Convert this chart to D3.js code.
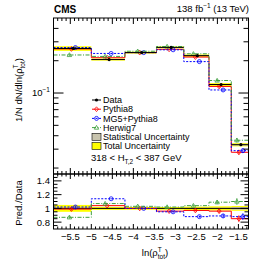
<!DOCTYPE html>
<html>
<head>
<meta charset="utf-8">
<script src="https://cdn.jsdelivr.net/npm/d3@7"></script>
<style>
  body { margin: 0; background: #fff; }
  text { font-family: "Liberation Sans", Arial, sans-serif; fill: #000; }
</style>
</head>
<body>
<script>
let W = 254, H = 271;
let left = 53.5, right = 248.5,
  topY = 18, midY = 174, botY = 229;

// bin edges in ln(rho)
let edges = [-5.9, -5.0, -4.2, -3.45, -2.8, -2.2, -1.67, -1.26];
// normalised data and uncertainties
let dataVals = [0.26, 0.205, 0.238, 0.266, 0.223, 0.12, 0.033];
let totUnc = [0.05, 0.022, 0.02, 0.02, 0.025, 0.03, 0.035];
let statUnc = [0.012, 0.006, 0.006, 0.006, 0.008, 0.01, 0.02];
// prediction / data
let pythiaRatio = [0.99, 1.04, 1.00, 0.96, 0.97, 0.96, 0.85];
let mg5Ratio = [1.02, 1.14, 1.00, 0.95, 0.88, 0.89, 0.88];
let herwigRatio = [0.87, 1.07, 1.03, 1.02, 1.04, 1.09, 1.10];
let mcErr = [0.02, 0.01, 0.01, 0.01, 0.015, 0.03, 0.05];
let xTicks = [-5.5, -5, -4.5, -4, -3.5, -3, -2.5, -2, -1.5];
let ratioTicks = [0.8, 1, 1.2, 1.4];

let svg = d3.select("body").append("svg")
  .attr("width", W).attr("height", H);

let x = d3.scaleLinear().domain([edges[0], edges[edges.length - 1]]).range([left, right]);
let y = d3.scaleLog().domain([0.0176, 0.5]).range([midY, topY]);
let yr = d3.scaleLinear().domain([0.7, 1.5]).range([botY, midY]);

let bins = dataVals.map((d, i) => ({ i: i, x0: edges[i], x1: edges[i + 1], c: (edges[i] + edges[i + 1]) / 2 }));

let series = [
  { name: "Pythia8", r: pythiaRatio, color: "#ff0000", dash: null, marker: "diamond", off: -1 },
  { name: "MG5+Pythia8", r: mg5Ratio, color: "#0000ff", dash: "2,1.5", marker: "circle", off: 3 },
  { name: "Herwig7", r: herwigRatio, color: "#3fa03f", dash: "4,1.5,1,1.5", marker: "triangle", off: -3 }
];

function stepPath(vals, sy) {
  let p = d3.path();
  vals.forEach((v, i) => {
    if (i === 0) p.moveTo(x(edges[0]), sy(v));
    else p.lineTo(x(edges[i]), sy(v));
    p.lineTo(x(edges[i + 1]), sy(v));
  });
  return p.toString();
}

function drawMarker(g, type, cx, cy, color) {
  if (type === "circle") {
    g.append("circle").attr("cx", cx).attr("cy", cy).attr("r", 2)
      .attr("fill", "none").attr("stroke", color).attr("stroke-width", 0.8);
  } else if (type === "diamond") {
    g.append("path").attr("d", `M${cx},${cy - 2.4}L${cx + 2},${cy}L${cx},${cy + 2.4}L${cx - 2},${cy}Z`)
      .attr("fill", "none").attr("stroke", color).attr("stroke-width", 0.8);
  } else if (type === "triangle") {
    g.append("path").attr("d", `M${cx},${cy - 2.2}L${cx + 2.2},${cy + 1.6}L${cx - 2.2},${cy + 1.6}Z`)
      .attr("fill", "none").attr("stroke", color).attr("stroke-width", 0.8);
  } else {
    g.append("circle").attr("cx", cx).attr("cy", cy).attr("r", 1.6).attr("fill", color);
  }
}

// ---------- upper panel ----------
let up = svg.append("g");
up.selectAll("rect.tot").data(bins).enter().append("rect")
  .attr("x", d => x(d.x0)).attr("width", d => x(d.x1) - x(d.x0))
  .attr("y", d => y(dataVals[d.i] * (1 + totUnc[d.i])))
  .attr("height", d => y(dataVals[d.i] * (1 - totUnc[d.i])) - y(dataVals[d.i] * (1 + totUnc[d.i])))
  .attr("fill", "#ffff00");
up.selectAll("rect.stat").data(bins).enter().append("rect")
  .attr("x", d => x(d.x0)).attr("width", d => x(d.x1) - x(d.x0))
  .attr("y", d => y(dataVals[d.i] * (1 + statUnc[d.i])))
  .attr("height", d => y(dataVals[d.i] * (1 - statUnc[d.i])) - y(dataVals[d.i] * (1 + statUnc[d.i])))
  .attr("fill", "#c8c4ae");

series.forEach(s => {
  let vals = dataVals.map((d, i) => d * s.r[i]);
  up.append("path").attr("d", stepPath(vals, y)).attr("fill", "none")
    .attr("stroke", s.color).attr("stroke-width", 1).attr("stroke-dasharray", s.dash);
  bins.forEach(b => {
    let cx = x(b.c) + s.off, v = vals[b.i];
    up.append("line").attr("x1", cx).attr("x2", cx)
      .attr("y1", y(v * (1 + mcErr[b.i]))).attr("y2", y(v * (1 - mcErr[b.i])))
      .attr("stroke", s.color).attr("stroke-width", 0.8);
    drawMarker(up, s.marker, cx, y(v), s.color);
  });
});
// data
bins.forEach(b => {
  up.append("line").attr("x1", x(b.x0)).attr("x2", x(b.x1))
    .attr("y1", y(dataVals[b.i])).attr("y2", y(dataVals[b.i]))
    .attr("stroke", "#000").attr("stroke-width", 1);
  drawMarker(up, "dot", x(b.c) + 1, y(dataVals[b.i]), "#000");
});

// ---------- ratio panel ----------
let lo = svg.append("g");
lo.selectAll("rect.tot").data(bins).enter().append("rect")
  .attr("x", d => x(d.x0)).attr("width", d => x(d.x1) - x(d.x0))
  .attr("y", d => yr(1 + totUnc[d.i])).attr("height", d => yr(1 - totUnc[d.i]) - yr(1 + totUnc[d.i]))
  .attr("fill", "#ffff00");
lo.selectAll("rect.stat").data(bins).enter().append("rect")
  .attr("x", d => x(d.x0)).attr("width", d => x(d.x1) - x(d.x0))
  .attr("y", d => yr(1 + statUnc[d.i])).attr("height", d => yr(1 - statUnc[d.i]) - yr(1 + statUnc[d.i]))
  .attr("fill", "#c8c4ae");
lo.append("line").attr("x1", left).attr("x2", right).attr("y1", yr(1)).attr("y2", yr(1))
  .attr("stroke", "#000").attr("stroke-width", 1);
series.forEach(s => {
  lo.append("path").attr("d", stepPath(s.r, yr)).attr("fill", "none")
    .attr("stroke", s.color).attr("stroke-width", 1).attr("stroke-dasharray", s.dash);
  bins.forEach(b => {
    let cx = x(b.c) + s.off, v = s.r[b.i];
    lo.append("line").attr("x1", cx).attr("x2", cx)
      .attr("y1", yr(v + mcErr[b.i])).attr("y2", yr(v - mcErr[b.i]))
      .attr("stroke", s.color).attr("stroke-width", 0.8);
    drawMarker(lo, s.marker, cx, yr(v), s.color);
  });
});

// ---------- frames and ticks ----------
let ax = svg.append("g").attr("stroke", "#000").attr("stroke-width", 1).attr("fill", "none");
ax.append("rect").attr("x", left).attr("y", topY).attr("width", right - left).attr("height", midY - topY);
ax.append("rect").attr("x", left).attr("y", midY).attr("width", right - left).attr("height", botY - midY);

let minorX = d3.range(-5.9, -1.25, 0.1).map(v => +v.toFixed(1));
function xTickMarks(yEdge, dir, maj, min) {
  minorX.forEach(v => {
    let isMaj = xTicks.some(t => Math.abs(t - v) < 1e-6);
    let len = isMaj ? maj : min;
    ax.append("line").attr("x1", x(v)).attr("x2", x(v)).attr("y1", yEdge).attr("y2", yEdge + dir * len);
  });
}
xTickMarks(topY, 1, 6, 3);
xTickMarks(midY, -1, 6, 3);
xTickMarks(midY, 1, 5, 2.5);
xTickMarks(botY, -1, 5, 2.5);

// log y ticks
let logTicks = [0.02, 0.03, 0.04, 0.05, 0.06, 0.07, 0.08, 0.09, 0.1, 0.2, 0.3, 0.4];
logTicks.forEach(v => {
  let len = v === 0.1 ? 10 : 5;
  ax.append("line").attr("x1", left).attr("x2", left + len).attr("y1", y(v)).attr("y2", y(v));
  ax.append("line").attr("x1", right).attr("x2", right - len).attr("y1", y(v)).attr("y2", y(v));
});
// ratio y ticks
d3.range(0.75, 1.5, 0.05).map(v => +v.toFixed(2)).forEach(v => {
  let isMaj = ratioTicks.some(t => Math.abs(t - v) < 1e-6);
  let len = isMaj ? 8 : 4;
  ax.append("line").attr("x1", left).attr("x2", left + len).attr("y1", yr(v)).attr("y2", yr(v));
  ax.append("line").attr("x1", right).attr("x2", right - len).attr("y1", yr(v)).attr("y2", yr(v));
});

// ---------- labels ----------
let fs = 9.5;
let fmt = v => String(v).replace("-", "\u2212");
svg.selectAll("text.xl").data(xTicks).enter().append("text")
  .attr("x", d => x(d)).attr("y", 240).attr("text-anchor", "middle")
  .style("font-size", fs + "px").text(fmt);
svg.selectAll("text.yl").data(ratioTicks).enter().append("text")
  .attr("x", 50).attr("y", d => yr(d) + 3.4).attr("text-anchor", "end")
  .style("font-size", fs + "px").text(d => d === 1 ? "1" : d.toFixed(1));

let t10 = svg.append("text").attr("x", 50).attr("y", y(0.1) + 3.4).attr("text-anchor", "end")
  .style("font-size", fs + "px");
t10.append("tspan").text("10");
t10.append("tspan").attr("dy", -4).style("font-size", "6.5px").text("\u22121");

svg.append("text").attr("x", 54).attr("y", 13).style("font-size", "10px")
  .style("font-weight", "bold").text("CMS");
let lumi = svg.append("text").attr("x", 249).attr("y", 12).attr("text-anchor", "end")
  .style("font-size", fs + "px");
lumi.append("tspan").text("138 fb");
lumi.append("tspan").attr("dy", -4).style("font-size", "6.5px").text("\u22121");
lumi.append("tspan").attr("dy", 4).text(" (13 TeV)");

// y title upper
let yt = svg.append("text").attr("transform", "translate(22,90) rotate(-90)")
  .attr("text-anchor", "middle").style("font-size", fs + "px");
yt.append("tspan").text("1/N dN/dln(\u03c1");
yt.append("tspan").attr("dy", -4).style("font-size", "6.5px").text("T");
yt.append("tspan").attr("dx", -4).attr("dy", 7).style("font-size", "6.5px").text("tot");
yt.append("tspan").attr("dy", -3).text(")");

svg.append("text").attr("transform", "translate(22,203) rotate(-90)")
  .attr("text-anchor", "middle").style("font-size", fs + "px").text("Pred./Data");

let xt = svg.append("text").attr("x", 155).attr("y", 256).attr("text-anchor", "middle")
  .style("font-size", fs + "px");
xt.append("tspan").text("ln(\u03c1");
xt.append("tspan").attr("dy", -4).style("font-size", "6.5px").text("T");
xt.append("tspan").attr("dx", -4).attr("dy", 7).style("font-size", "6.5px").text("tot");
xt.append("tspan").attr("dy", -3).text(")");

// ---------- legend ----------
let lfs = 9;
let legend = [
  { name: "Data", color: "#000", marker: "dot", dash: null },
  { name: "Pythia8", color: "#ff0000", marker: "diamond", dash: null },
  { name: "MG5+Pythia8", color: "#0000ff", marker: "circle", dash: "2,1.5" },
  { name: "Herwig7", color: "#3fa03f", marker: "triangle", dash: "4,1.5,1,1.5" }
];
let lg = svg.append("g");
legend.forEach((l, i) => {
  let ly = 100 + i * 9.2;
  lg.append("line").attr("x1", 92).attr("x2", 101).attr("y1", ly).attr("y2", ly)
    .attr("stroke", l.color).attr("stroke-width", 1).attr("stroke-dasharray", l.dash);
  drawMarker(lg, l.marker, 96.5, ly, l.color);
  lg.append("text").attr("x", 103).attr("y", ly + 3.2).style("font-size", lfs + "px").text(l.name);
});
[["Statistical Uncertainty", "#c8c4ae"], ["Total Uncertainty", "#ffff00"]].forEach((b, i) => {
  let ly = 100 + (4 + i) * 9.2;
  lg.append("rect").attr("x", 92).attr("y", ly - 3.5).attr("width", 9).attr("height", 7)
    .attr("fill", b[1]).attr("stroke", "#000").attr("stroke-width", 0.6);
  lg.append("text").attr("x", 103).attr("y", ly + 3.2).style("font-size", lfs + "px").text(b[0]);
});
let ht = svg.append("text").attr("x", 91).attr("y", 161).style("font-size", fs + "px");
ht.append("tspan").text("318 < H");
ht.append("tspan").attr("dy", 2.5).style("font-size", "6.5px").text("T,2");
ht.append("tspan").attr("dy", -2.5).text(" < 387 GeV");
</script>
</body>
</html>
